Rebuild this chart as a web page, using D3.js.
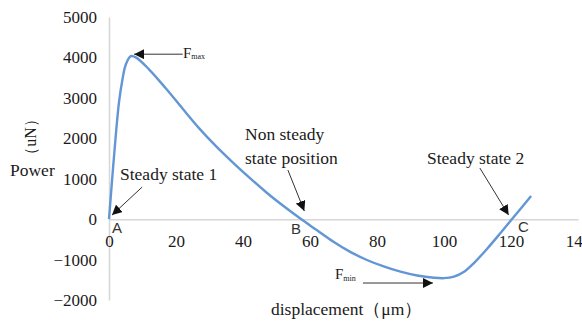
<!DOCTYPE html>
<html>
<head>
    <meta charset="utf-8">
    <title>Power vs displacement</title>
    <script src="https://d3js.org/d3.v7.min.js"></script>
    <style>
        body { margin: 0; background: #fff; }
        text { font-family: "Liberation Serif", "Times New Roman", serif; fill: #1a1a1a; }
    </style>
</head>
<body>
    <div id="chart"></div>
    <script>
        // values
        var dispValues = [0, 1, 2, 3, 4, 5, 6.5, 8, 12, 17, 22, 27, 32, 37, 42, 47, 52, 57,
            62, 67, 72, 77, 82, 87, 92, 97, 100, 103, 106, 109, 113, 117, 120, 123, 126];
        var powerValues = [0, 1050, 2050, 2900, 3450, 3820, 4030, 4000, 3700, 3230, 2730, 2240, 1800, 1400, 1020, 660, 330, 20,
            -270, -560, -810, -1010, -1170, -1300, -1395, -1450, -1460, -1420, -1300, -1080, -720, -330, -30, 270, 570];
        var xTicks = [0, 20, 40, 60, 80, 100, 120, 140];
        var yTicks = [-2000, -1000, 0, 1000, 2000, 3000, 4000, 5000];

        var width = 582, height = 321;

        var svg = d3.select("#chart")
            .append("svg")
            .attr("width", width)
            .attr("height", height);

        var x = d3.scaleLinear().domain([0, 140]).range([109, 578]);
        var y = d3.scaleLinear().domain([-2000, 5000]).range([300, 17]);

        // arrow head
        svg.append("defs").append("marker")
            .attr("id", "head")
            .attr("viewBox", "0 0 10 10")
            .attr("refX", 10).attr("refY", 5)
            .attr("markerWidth", 10).attr("markerHeight", 10)
            .attr("markerUnits", "userSpaceOnUse")
            .attr("orient", "auto")
            .append("path")
            .attr("d", "M0,0 L10,5 L0,10 Z")
            .style("fill", "#111");

        // Y axis
        var yAxis = svg.append("g")
            .attr("transform", "translate(" + x(0) + ",0)")
            .call(d3.axisLeft(y).tickValues(yTicks).tickSize(0).tickPadding(12)
                .tickFormat(function (d) { return d < 0 ? "\u2212" + Math.abs(d) : d; }));
        yAxis.select(".domain").style("stroke", "#d6d6d6").style("stroke-width", 1.5);
        yAxis.selectAll("text").style("font-size", "17px").style("font-family", "Liberation Serif");

        // X axis along zero
        var xAxis = svg.append("g")
            .attr("transform", "translate(0," + y(0) + ")")
            .call(d3.axisBottom(x).tickValues(xTicks).tickSize(0).tickPadding(16));
        xAxis.select(".domain").style("stroke", "#d6d6d6").style("stroke-width", 1.5);
        xAxis.selectAll("text").style("font-size", "17px").style("font-family", "Liberation Serif");

        // curve
        var pts = dispValues.map(function (d, i) { return [d, powerValues[i]]; });
        svg.append("path")
            .datum(pts)
            .attr("d", d3.line()
                .x(function (d) { return x(d[0]); })
                .y(function (d) { return y(d[1]); })
                .curve(d3.curveCatmullRom.alpha(0.5)))
            .style("fill", "none")
            .style("stroke", "#6296d4")
            .style("stroke-width", 2.4);

        // arrows (data coords)
        function arrow(x1, y1, x2, y2) {
            svg.append("line")
                .attr("x1", x(x1)).attr("y1", y(y1))
                .attr("x2", x(x2)).attr("y2", y(y2))
                .style("stroke", "#333")
                .style("stroke-width", 1)
                .attr("marker-end", "url(#head)");
        }
        arrow(22, 4080, 7.5, 4080);
        arrow(75.8, -1580, 96.7, -1580);
        arrow(9.9, 794, 0.9, 100);
        arrow(53.4, 1215, 58.3, 200);
        arrow(110.7, 1264, 119.3, 100);

        // labels
        function label(tx, ty, s, size) {
            return svg.append("text").attr("x", tx).attr("y", ty).text(s).style("font-size", size + "px");
        }
        var fmax = svg.append("text").attr("x", 183).attr("y", 58).style("font-size", "15px");
        fmax.append("tspan").text("F");
        fmax.append("tspan").text("max").style("font-size", "8px").attr("dy", 1);
        var fmin = svg.append("text").attr("x", 335).attr("y", 279).style("font-size", "15px");
        fmin.append("tspan").text("F");
        fmin.append("tspan").text("min").style("font-size", "8px").attr("dy", 2);

        label(120, 180, "Steady state 1", 17.5);
        label(245, 140, "Non steady", 17.5);
        label(245, 164, "state position", 17.5);
        label(427, 164, "Steady state 2", 17.5);
        label(10, 176, "Power", 17.5);
        label(271, 315, "displacement\uff08\u03bcm\uff09", 17.5);
        svg.append("text")
            .attr("transform", "translate(36,137) rotate(-90)")
            .attr("text-anchor", "middle")
            .style("font-size", "16px")
            .text("\uff08uN\uff09");

        // point letters
        [["A", 112, 233], ["B", 291, 234], ["C", 518, 232]].forEach(function (p) {
            svg.append("text").attr("x", p[1]).attr("y", p[2]).text(p[0])
                .style("font-family", "Liberation Sans").style("font-size", "15px").style("fill", "#333");
        });
    </script>
</body>
</html>
